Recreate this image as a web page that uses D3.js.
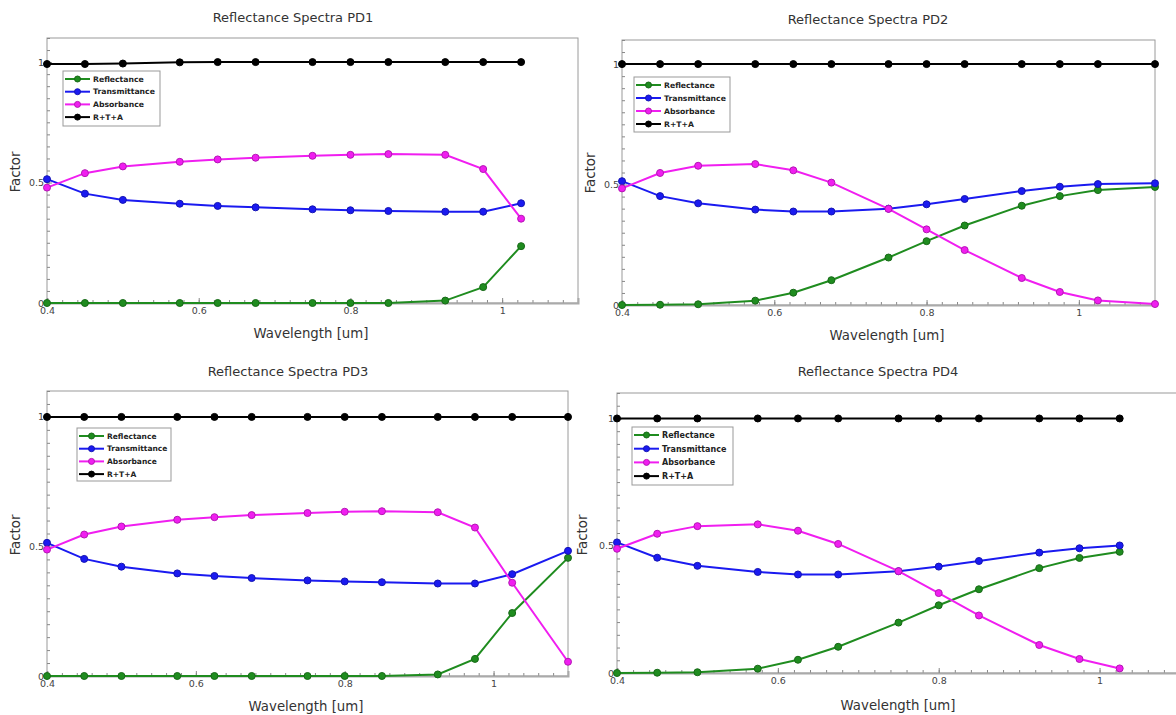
<!DOCTYPE html>
<html>
<head>
<meta charset="utf-8">
<script src="https://cdn.jsdelivr.net/npm/d3@7"></script>
<style>
  body { margin: 0; background: #fff; }
  svg { display: block; font-family: "DejaVu Sans", sans-serif; }
</style>
</head>
<body>
<script>
// wavelengths [um] sampled in every panel (PD1 / PD4 stop at 1.025)
const wavelength = [0.4, 0.45, 0.5, 0.575, 0.625, 0.675, 0.75, 0.8, 0.85, 0.925, 0.975, 1.025, 1.1];

const seriesNames = ["Reflectance", "Transmittance", "Absorbance", "R+T+A"];
const seriesColors = ["#1f8c1f", "#1a1af0", "#f01ef0", "#000000"];
const xTickValues = [0.4, 0.6, 0.8, 1];
const yTickValues = [0, 0.5, 1];

const pd1R = [0, 0, 0, 0, 0, 0, 0, 0, 0, 0.01, 0.066, 0.236];
const pd1T = [0.514, 0.454, 0.428, 0.412, 0.403, 0.397, 0.389, 0.385, 0.382, 0.379, 0.379, 0.414];
const pd1A = [0.479, 0.539, 0.567, 0.586, 0.596, 0.603, 0.611, 0.615, 0.618, 0.615, 0.556, 0.350];
const pd1S = [0.992, 0.992, 0.994, 0.999, 1, 1, 1, 1, 1, 1, 1, 1];

const pd2R = [0, 0.001, 0.003, 0.018, 0.051, 0.103, 0.197, 0.265, 0.330, 0.412, 0.452, 0.477, 0.490];
const pd2T = [0.514, 0.452, 0.422, 0.396, 0.388, 0.388, 0.400, 0.418, 0.440, 0.473, 0.491, 0.502, 0.505];
const pd2A = [0.484, 0.548, 0.578, 0.585, 0.559, 0.508, 0.399, 0.314, 0.228, 0.112, 0.054, 0.019, 0.004];
const pd2S = [1, 1, 1, 1, 1, 1, 1, 1, 1, 1, 1, 1, 1];

const pd3R = [0, 0, 0, 0, 0, 0, 0, 0, 0, 0.006, 0.066, 0.243, 0.456];
const pd3T = [0.514, 0.452, 0.422, 0.396, 0.386, 0.378, 0.369, 0.365, 0.362, 0.357, 0.357, 0.393, 0.483];
const pd3A = [0.488, 0.546, 0.577, 0.603, 0.613, 0.621, 0.629, 0.634, 0.636, 0.632, 0.573, 0.360, 0.055];
const pd3S = [1, 1, 1, 1, 1, 1, 1, 1, 1, 1, 1, 1, 1];

const pd4R = [0, 0.001, 0.003, 0.017, 0.052, 0.103, 0.198, 0.266, 0.329, 0.412, 0.452, 0.476];
const pd4T = [0.513, 0.453, 0.421, 0.397, 0.387, 0.387, 0.400, 0.418, 0.440, 0.473, 0.490, 0.501];
const pd4A = [0.488, 0.547, 0.577, 0.584, 0.559, 0.507, 0.400, 0.314, 0.226, 0.110, 0.055, 0.018];
const pd4S = [1, 1, 1, 1, 1, 1, 1, 1, 1, 1, 1, 1];

const w = 1176, h = 715;

// layout of each subplot in page pixels
const panels = [
  { title: "Reflectance Spectra PD1", series: [pd1R, pd1T, pd1A, pd1S],
    left: 47, right: 578, bottom: 303, top: 38,
    titleAt: [293, 22], xlabAt: [311, 338], ylabAt: [16, 172],
    legend: { x: 63, y: 71, w: 97, h: 55, row: 12.7, font: 7.7 } },
  { title: "Reflectance Spectra PD2", series: [pd2R, pd2T, pd2A, pd2S],
    left: 622, right: 1155, bottom: 305, top: 40,
    titleAt: [868, 24], xlabAt: [887, 340], ylabAt: [591, 173],
    legend: { x: 634, y: 77, w: 96, h: 55, row: 13, font: 7.7 } },
  { title: "Reflectance Spectra PD3", series: [pd3R, pd3T, pd3A, pd3S],
    left: 47, right: 568, bottom: 676, top: 391,
    titleAt: [288, 376], xlabAt: [306, 711], ylabAt: [16, 535],
    legend: { x: 77, y: 428, w: 94, h: 53, row: 12.7, font: 7.5 } },
  { title: "Reflectance Spectra PD4", series: [pd4R, pd4T, pd4A, pd4S],
    left: 617, right: 1180, bottom: 673, top: 393,
    titleAt: [878, 376], xlabAt: [898, 710], ylabAt: [583, 535],
    legend: { x: 632, y: 427, w: 101, h: 58, row: 13.7, font: 8 } }
];

const svg = d3.select("body").append("svg")
  .attr("width", w)
  .attr("height", h);

panels.forEach(p => {
  const g = svg.append("g");

  const xScale = d3.scaleLinear().domain([0.4, 1.1]).range([p.left, p.right]);
  const yScale = d3.scaleLinear().domain([0, 1.1]).range([p.bottom, p.top]);

  // frame
  g.append("rect")
    .attr("x", p.left).attr("y", p.top)
    .attr("width", p.right - p.left).attr("height", p.bottom - p.top)
    .attr("fill", "none").attr("stroke", "#9a9a9a").attr("stroke-width", 1);

  // minor ticks (inward)
  const xMinor = d3.axisBottom(xScale)
    .tickValues(d3.range(0.4, 1.1001, 0.02))
    .tickSize(-3).tickFormat("");
  g.append("g").attr("transform", "translate(0," + p.bottom + ")").call(xMinor)
    .call(a => a.select(".domain").remove())
    .selectAll("line").attr("stroke", "#888");

  const yMinor = d3.axisLeft(yScale)
    .tickValues(d3.range(0, 1.1001, 0.05))
    .tickSize(-3).tickFormat("");
  g.append("g").attr("transform", "translate(" + p.left + ",0)").call(yMinor)
    .call(a => a.select(".domain").remove())
    .selectAll("line").attr("stroke", "#888");

  // labelled axes
  const xAxis = d3.axisBottom(xScale).tickValues(xTickValues)
    .tickSize(-5).tickPadding(4).tickFormat(d3.format("~g"));
  g.append("g").attr("transform", "translate(0," + p.bottom + ")").call(xAxis)
    .call(a => a.select(".domain").attr("stroke", "#aaa").attr("stroke-width", 2))
    .call(a => a.selectAll("line").attr("stroke", "#888"))
    .call(a => a.selectAll("text").attr("fill", "#444").attr("font-size", 9.5)
      .attr("font-family", "DejaVu Sans, sans-serif"));

  const yAxis = d3.axisLeft(yScale).tickValues(yTickValues)
    .tickSize(-5).tickPadding(3).tickFormat(d3.format("~g"));
  g.append("g").attr("transform", "translate(" + p.left + ",0)").call(yAxis)
    .call(a => a.select(".domain").remove())
    .call(a => a.selectAll("line").attr("stroke", "#888"))
    .call(a => a.selectAll("text").attr("fill", "#444").attr("font-size", 9.5)
      .attr("font-family", "DejaVu Sans, sans-serif"));

  // series lines + markers
  const line = d3.line()
    .x((d, i) => xScale(wavelength[i]))
    .y(d => yScale(d));

  p.series.forEach((vals, k) => {
    g.append("path")
      .datum(vals)
      .attr("d", line)
      .attr("fill", "none")
      .attr("stroke", seriesColors[k])
      .attr("stroke-width", 2);
    g.selectAll(".m" + k).data(vals).enter()
      .append("circle")
      .attr("class", "m" + k)
      .attr("cx", (d, i) => xScale(wavelength[i]))
      .attr("cy", d => yScale(d))
      .attr("r", 3.5)
      .attr("fill", seriesColors[k])
      .attr("stroke", d3.color(seriesColors[k]).darker(0.8))
      .attr("stroke-width", 1);
  });

  // titles
  g.append("text")
    .attr("x", p.titleAt[0]).attr("y", p.titleAt[1])
    .attr("text-anchor", "middle").attr("font-size", 13).attr("fill", "#333")
    .text(p.title);
  g.append("text")
    .attr("x", p.xlabAt[0]).attr("y", p.xlabAt[1])
    .attr("text-anchor", "middle").attr("font-size", 13.3).attr("fill", "#333")
    .text("Wavelength [um]");
  g.append("text")
    .attr("transform", "translate(" + p.ylabAt[0] + "," + p.ylabAt[1] + ") rotate(-90)")
    .attr("text-anchor", "middle").attr("dominant-baseline", "middle")
    .attr("font-size", 13.3).attr("fill", "#333")
    .text("Factor");

  // legend
  const L = p.legend;
  const lg = g.append("g").attr("transform", "translate(" + L.x + "," + L.y + ")");
  lg.append("rect")
    .attr("width", L.w).attr("height", L.h)
    .attr("fill", "#fff").attr("stroke", "#999").attr("stroke-width", 1);
  seriesNames.forEach((name, k) => {
    const yy = 8 + k * L.row;
    lg.append("line")
      .attr("x1", 2).attr("x2", 27).attr("y1", yy).attr("y2", yy)
      .attr("stroke", seriesColors[k]).attr("stroke-width", 2);
    lg.append("circle")
      .attr("cx", 14.5).attr("cy", yy).attr("r", 3)
      .attr("fill", seriesColors[k])
      .attr("stroke", d3.color(seriesColors[k]).darker(0.8));
    lg.append("text")
      .attr("x", 30).attr("y", yy).attr("dy", "0.35em")
      .attr("font-size", L.font).attr("font-weight", "bold").attr("fill", "#222")
      .text(name);
  });
});
</script>
</body>
</html>
